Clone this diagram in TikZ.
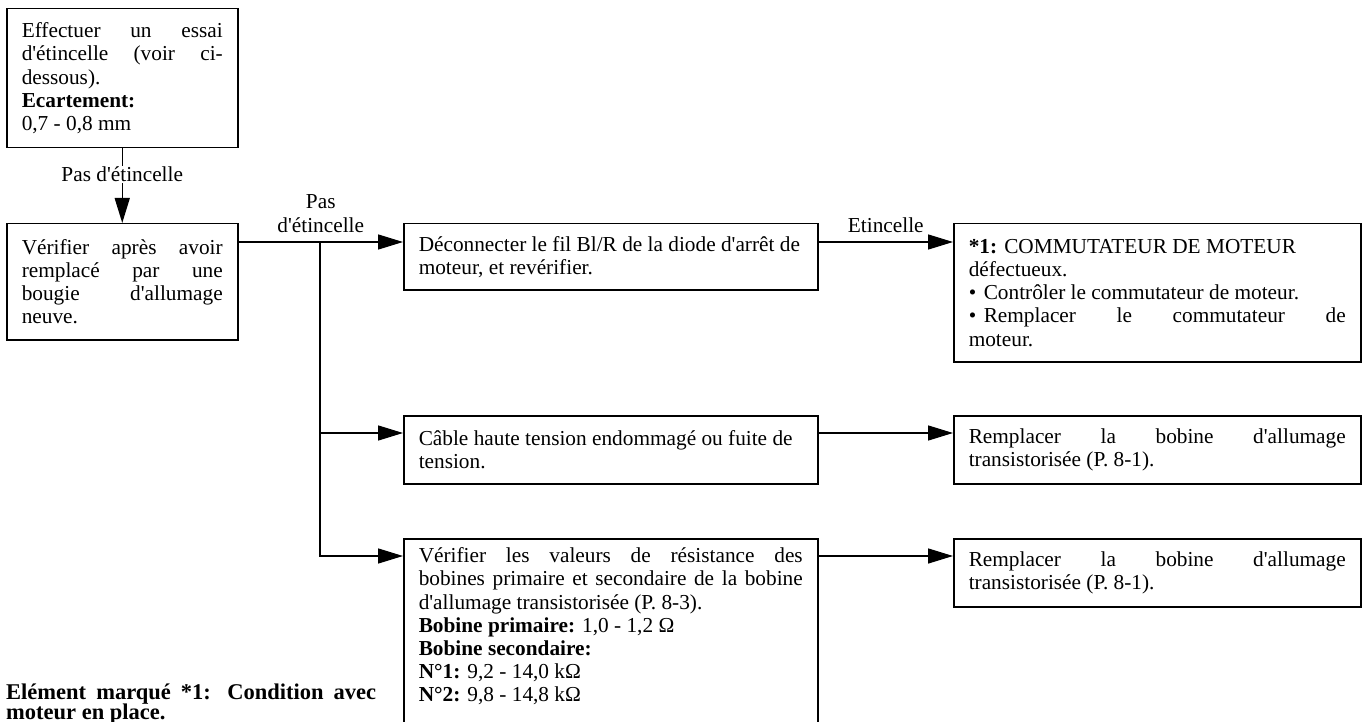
\documentclass[tikz,border=0pt]{standalone}
\usepackage{fontspec}
\setmainfont{Liberation Serif}[Ligatures=TeXOff]
\usetikzlibrary{arrows.meta}
\newcommand\fs{\fontsize{21.3pt}{23.2pt}\selectfont}
\newcommand\bul{\makebox[15pt][l]{\textbullet}}
\begin{document}
\begin{tikzpicture}[x=1pt,y=-1pt,
  box/.style={draw, line width=1.5pt, anchor=north west, inner xsep=15pt, inner ysep=0pt, align=justify, font=\fs},
  arr/.style={line width=1.5pt, -{Triangle[length=25pt,width=15pt]}},
  lbl/.style={font=\fs, align=center, inner sep=1pt}]
\useasboundingbox (0,0) rectangle (1363,722);
\clip (0,0) rectangle (1363,722);
\fill[white] (0,0) rectangle (1363,722);

\node[box, text width=201pt, minimum height=139pt] (b1) at (6,8)
  {Effectuer un essai\linebreak d'étincelle (voir ci-\linebreak dessous).\\ \textbf{Ecartement:}\\ 0,7 - 0,8 mm};
\node[box, text width=201pt, minimum height=116pt] (b2) at (6,223)
  {Vérifier après avoir\linebreak remplacé par une\linebreak bougie d'allumage\linebreak neuve.};
\node[box, text width=384pt, minimum height=66pt] (b3) at (403,223)
  {Déconnecter le fil Bl/R de la diode d'arrêt de\\ moteur, et revérifier.};
\node[box, text width=377pt, minimum height=138pt] (b4) at (953,223)
  {\textbf{*1:} COMMUTATEUR DE MOTEUR\\ défectueux.\\ \bul Contrôler le commutateur de moteur.\\ \bul Remplacer le commutateur de\linebreak moteur.};
\node[box, text width=384pt, minimum height=68pt] (b5) at (403,415)
  {Câble haute tension endommagé ou fuite de\\ tension.};
\node[box, text width=377pt, minimum height=68pt] (b6) at (953,415)
  {Remplacer la bobine d'allumage\linebreak transistorisée (P. 8-1).};
\node[box, text width=384pt, inner ysep=9pt, text height=15pt, text depth=200pt] (b7) at (403,538)
  {Vérifier les valeurs de résistance des\linebreak bobines primaire et secondaire de la bobine\linebreak d'allumage transistorisée (P. 8-3).\\
   \textbf{Bobine primaire:} 1,0 - 1,2 Ω\\ \textbf{Bobine secondaire:}\\ \textbf{N°1:} 9,2 - 14,0 kΩ\\ \textbf{N°2:} 9,8 - 14,8 kΩ};
\node[box, text width=377pt, minimum height=68pt] (b8) at (953,538)
  {Remplacer la bobine d'allumage\linebreak transistorisée (P. 8-1).};

\node[font=\fontsize{22.5pt}{20.5pt}\selectfont\bfseries, text width=370pt, align=justify, inner sep=0pt, anchor=base west] (note) at (6,699)
  {Elément marqué *1: Condition avec\linebreak moteur en place.};

\draw[arr] (b1.south) -- node[lbl, fill=white, pos=0.35] {Pas d'étincelle} (b2.north);
\draw[arr] ([yshift=-19pt]b2.north east) -- node[lbl, midway, above=8pt] {Pas\\d'étincelle} ([yshift=-19pt]b3.north west);
\coordinate (j) at (320,242);
\draw[arr] (j) |- ([yshift=-18pt]b5.north west);
\draw[arr] (j) |- ([yshift=-18pt]b7.north west);
\draw[arr] ([yshift=-19pt]b3.north east) -- node[lbl, midway, above=8pt] {Etincelle} ([yshift=-19pt]b4.north west);
\draw[arr] ([yshift=-18pt]b5.north east) -- ([yshift=-18pt]b6.north west);
\draw[arr] ([yshift=-18pt]b7.north east) -- ([yshift=-18pt]b8.north west);
\end{tikzpicture}
\end{document}
